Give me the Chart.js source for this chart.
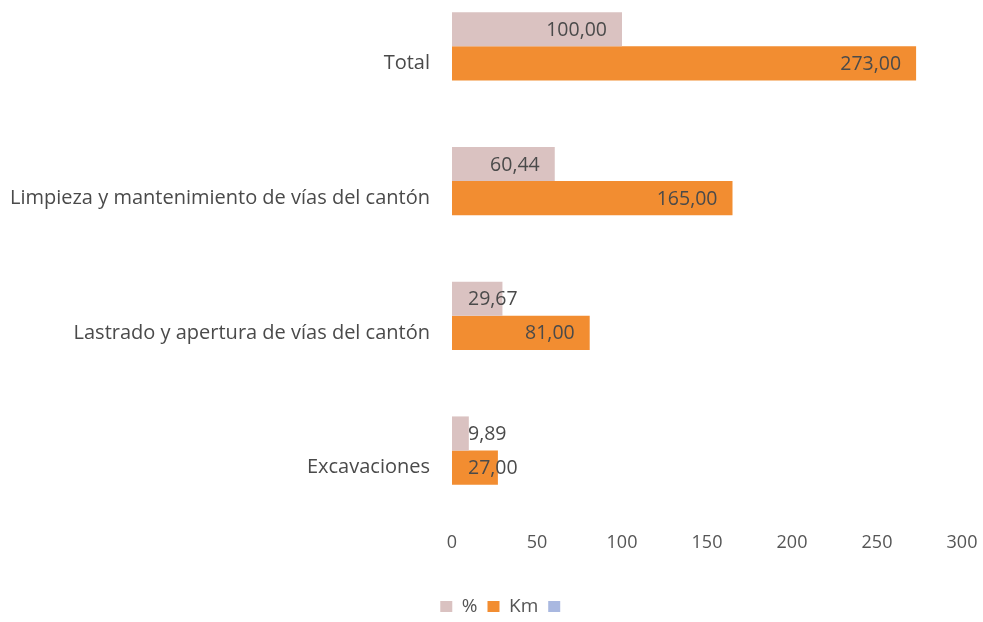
<!DOCTYPE html>
<html>
<head>
<meta charset="utf-8">
<script src="https://cdn.jsdelivr.net/npm/chart.js@4.4.1/dist/chart.umd.min.js"></script>
<style>
  html, body { margin: 0; padding: 0; background: #fff; overflow: hidden; }
  #wrap { position: absolute; left: 0; top: -4px; width: 983px; height: 630px; }
</style>
</head>
<body>
<div id="wrap"><canvas id="obrasChart"></canvas></div>
<script>
const categories = [
  'Total',
  'Limpieza y mantenimiento de vías del cantón',
  'Lastrado y apertura de vías del cantón',
  'Excavaciones'
];
const pctValues = [100.00, 60.44, 29.67, 9.89];
const kmValues = [273.00, 165.00, 81.00, 27.00];
const emptyValues = [null, null, null, null];
const xTicks = [0, 50, 100, 150, 200, 250, 300];

const textColor = '#555555';
const fontFamily = '"Open Sans", Lato, sans-serif';

// value labels at the inner end of each bar, pushed out when the bar is too short
const barLabels = {
  id: 'barLabels',
  afterDatasetsDraw(chart) {
    const c = chart.ctx;
    c.save();
    c.font = '19.5px ' + fontFamily;
    c.fillStyle = '#4a4a4a';
    c.textBaseline = 'middle';
    c.textAlign = 'left';
    [0, 1].forEach(di => {
      const meta = chart.getDatasetMeta(di);
      meta.data.forEach((bar, i) => {
        const v = chart.data.datasets[di].data[i];
        const txt = v.toFixed(2).replace('.', ',');
        const w = c.measureText(txt).width;
        let left = bar.x - 15 - w;
        left = Math.max(left, bar.base + 16);
        c.fillText(txt, left, bar.y + 1);
      });
    });
    c.restore();
  }
};

// legend sits a little right of the canvas centre
const legendShift = {
  id: 'legendShift',
  afterLayout(chart) {
    chart.legend.left += 24;
    chart.legend.right += 24;
  }
};

new Chart(document.getElementById('obrasChart'), {
  type: 'bar',
  data: {
    labels: categories,
    datasets: [
      { label: '%', data: pctValues, backgroundColor: '#dac2c1' },
      { label: 'Km', data: kmValues, backgroundColor: '#f28d31' },
      { label: '', data: emptyValues, backgroundColor: '#a9b8e0' }
    ]
  },
  options: {
    indexAxis: 'y',
    responsive: true,
    maintainAspectRatio: false,
    animation: false,
    datasets: { bar: { categoryPercentage: 0.76, barPercentage: 1 } },
    layout: { padding: { top: 0, right: 21, bottom: 0, left: 0 } },
    plugins: {
      tooltip: { enabled: false },
      legend: {
        position: 'bottom',
        labels: {
          boxWidth: 12,
          boxHeight: 11,
          padding: 10,
          color: textColor,
          font: { family: fontFamily, size: 19 }
        }
      }
    },
    scales: {
      x: {
        min: 0,
        max: 300,
        afterBuildTicks: s => { s.ticks = xTicks.map(v => ({ value: v })); },
        afterFit: s => { s.height = 52; },
        grid: { display: false, drawTicks: false },
        border: { display: false },
        ticks: { padding: -3, color: textColor, font: { family: fontFamily, size: 18 } }
      },
      y: {
        afterFit: s => { s.width = 452; s.paddingTop = 0; s.paddingBottom = 0; },
        grid: { display: false, drawTicks: false },
        border: { display: false },
        ticks: { padding: 22, color: '#4a4a4a', font: { family: fontFamily, size: 20 } }
      }
    }
  },
  plugins: [barLabels, legendShift]
});
</script>
</body>
</html>
